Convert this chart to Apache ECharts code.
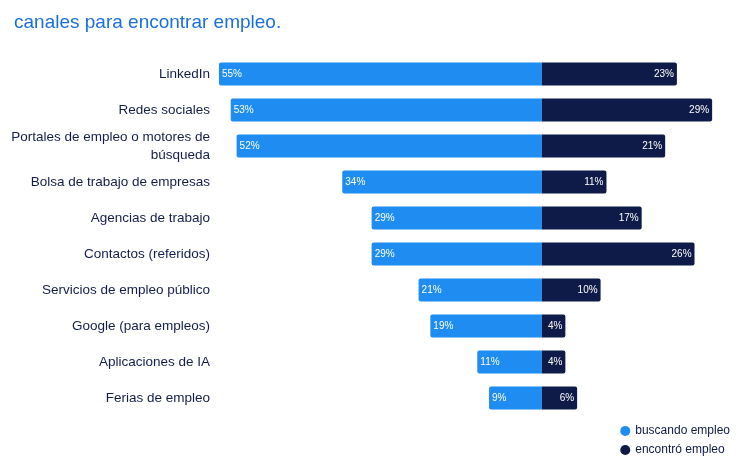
<!DOCTYPE html>
<html>
<head>
<meta charset="utf-8">
<script src="https://cdn.jsdelivr.net/npm/echarts@6/dist/echarts.min.js"></script>
<style>
  html, body { margin: 0; padding: 0; background: #fff; }
  #main { width: 741px; height: 463px; }
</style>
</head>
<body>
<div id="main"></div>
<script>
// categorías y valores (%)
var canales = [
  'LinkedIn',
  'Redes sociales',
  'Portales de empleo o motores de\nbúsqueda',
  'Bolsa de trabajo de empresas',
  'Agencias de trabajo',
  'Contactos (referidos)',
  'Servicios de empleo público',
  'Google (para empleos)',
  'Aplicaciones de IA',
  'Ferias de empleo'
];
var buscando = [55, 53, 52, 34, 29, 29, 21, 19, 11, 9];
var encontro = [23, 29, 21, 11, 17, 26, 10, 4, 4, 6];

var azul = '#1e8cf0';
var marino = '#0e1a47';

var myChart = echarts.init(document.getElementById('main'));

var option = {
  animation: false,
  title: {
    text: 'canales para encontrar empleo.',
    left: 9,
    top: 8,
    textStyle: {
      fontFamily: 'Liberation Sans',
      fontSize: 19,
      fontWeight: 'normal',
      color: '#1a6fd8'
    }
  },
  legend: {
    orient: 'vertical',
    right: 6,
    bottom: 2,
    itemGap: 7,
    itemWidth: 10,
    itemHeight: 10,
    icon: 'circle',
    textStyle: {
      fontFamily: 'Liberation Sans',
      fontSize: 12,
      color: '#0e1a47'
    },
    data: ['buscando empleo', 'encontró empleo']
  },
  grid: {
    left: 219,
    right: 23,
    top: 56,
    bottom: 47,
    containLabel: false
  },
  xAxis: {
    type: 'value',
    min: -55,
    max: 30,
    show: false
  },
  yAxis: {
    type: 'category',
    inverse: true,
    data: canales,
    axisLine: { show: false },
    axisTick: { show: false },
    axisLabel: {
      margin: 9,
      fontFamily: 'Liberation Sans',
      fontSize: 13.5,
      lineHeight: 18,
      color: '#121d4a'
    }
  },
  series: [
    {
      name: 'buscando empleo',
      type: 'bar',
      stack: 'total',
      barWidth: 23,
      data: buscando.map(function (v) { return -v; }),
      itemStyle: { color: azul, borderRadius: [2, 0, 0, 2] },
      label: {
        show: true,
        position: 'insideLeft',
        distance: 3,
        color: '#fff',
        fontFamily: 'Liberation Sans',
        fontSize: 10,
        formatter: function (p) { return Math.abs(p.value) + '%'; }
      }
    },
    {
      name: 'encontró empleo',
      type: 'bar',
      stack: 'total',
      barWidth: 23,
      data: encontro,
      itemStyle: { color: marino, borderRadius: [0, 2, 2, 0] },
      label: {
        show: true,
        position: 'insideRight',
        distance: 3,
        color: '#fff',
        fontFamily: 'Liberation Sans',
        fontSize: 10,
        formatter: '{c}%'
      }
    }
  ]
};

myChart.setOption(option);
</script>
</body>
</html>
